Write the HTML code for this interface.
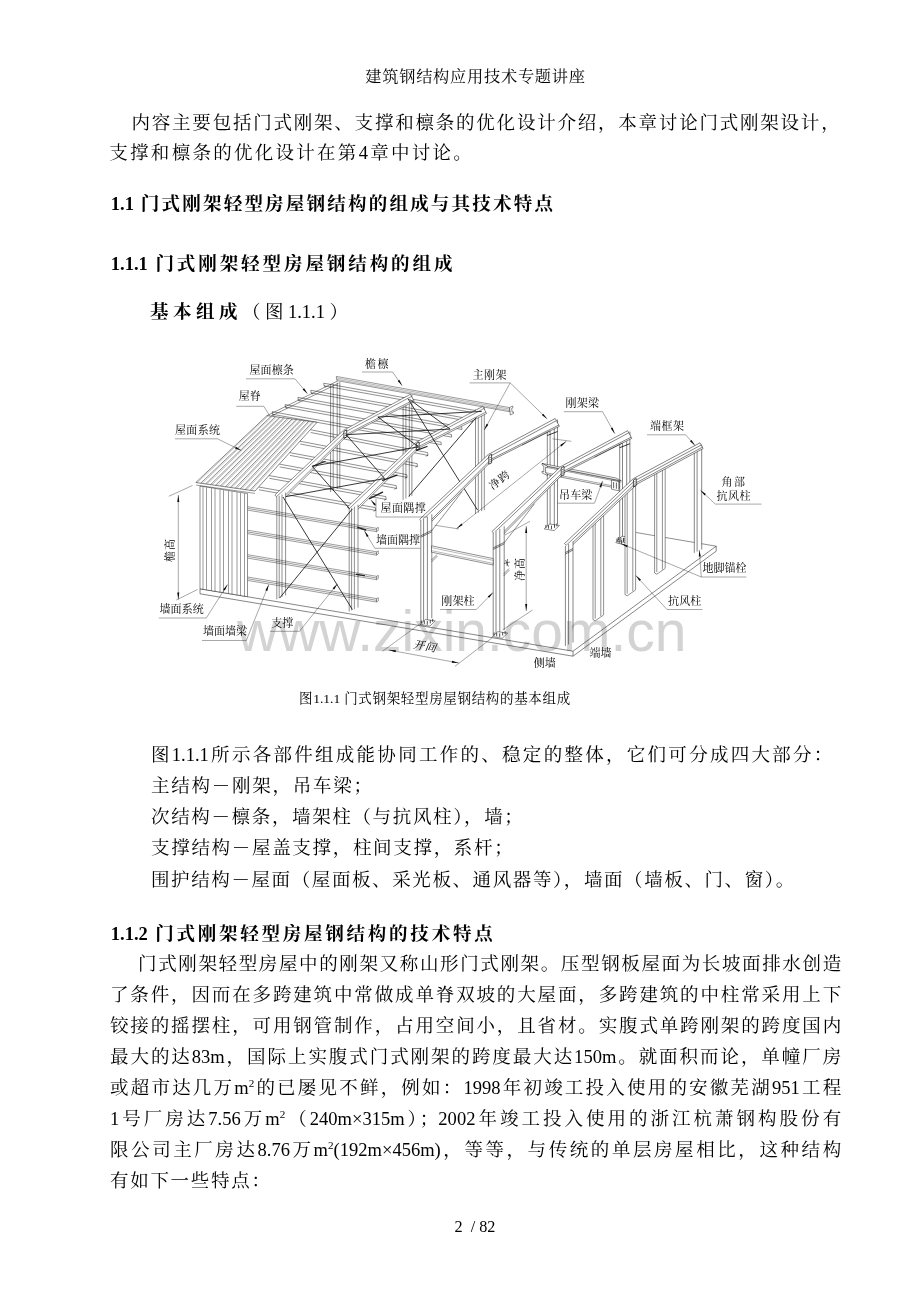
<!DOCTYPE html>
<html lang="zh-CN">
<head>
<meta charset="utf-8">
<title>建筑钢结构应用技术专题讲座</title>
<style>
html,body{margin:0;padding:0;background:#fff}
body{width:920px;height:1302px;overflow:hidden;font-family:"Liberation Serif","Noto Serif CJK SC",serif}
.page{position:relative;width:920px;height:1302px;overflow:hidden;background:#fff}
svg.ink{position:absolute;left:0;top:0;width:920px;height:1302px}
.textlayer{position:absolute;left:0;top:0;width:920px;height:1302px;overflow:hidden}
.t{position:absolute;margin:0;padding:0;line-height:1;white-space:nowrap;overflow:visible;color:#000;font-family:"Liberation Serif","Noto Serif CJK SC",serif;font-weight:normal;text-align:justify;text-align-last:justify}
.t.b{font-weight:bold}
.t sup{font-size:60%;line-height:0}
.wm{position:absolute;left:236.8px;top:602.2px;font-family:"Liberation Sans",sans-serif;font-size:58px;line-height:1;color:#d3d3d3;white-space:nowrap;transform:scaleX(.982);transform-origin:0 0;mix-blend-mode:multiply}
.pageno{position:absolute;left:454.5px;top:1219.1px;font-family:"Liberation Serif",serif;font-size:16.2px;line-height:1;color:#000;white-space:pre}
.t.fl{font-size:11px}

</style>
</head>
<body>
<div class="page">
<svg class="ink" width="920" height="1302" viewBox="0 0 920 1302" aria-hidden="true">
<g id="figure">
<path d="M200.0 588.8 L573.0 651.2 L716.2 546.2 L343.2 483.8Z" fill="#fff" stroke="none" stroke-width="0.0"/>
<path d="M200.0 588.8L573.0 651.2M573.0 651.2L716.2 546.2" fill="none" stroke="#000" stroke-width="0.484"/>
<path d="M200.0 593.8L573.0 656.2M573.0 656.2L716.2 551.2M200.0 588.8L200.0 593.8M573.0 651.2L573.0 656.2M716.2 546.2L716.2 551.2" fill="none" stroke="#000" stroke-width="0.484"/>
<path d="M636.0 532.5L716.2 546.2" fill="none" stroke="#000" stroke-width="0.44"/>
<path d="M330.6 384.7 L339.8 381.9 L339.8 487.9 L330.6 492.0Z" fill="#fff" stroke="none" stroke-width="0.0"/>
<path d="M330.6 384.7L330.6 492.0M333.2 383.9L333.2 490.8M337.2 382.7L337.2 489.0M339.8 381.9L339.8 487.9" fill="none" stroke="#000" stroke-width="0.44"/>
<path d="M403.1 397.3 L411.9 394.6 L411.9 495.9 L403.1 499.9Z" fill="#fff" stroke="none" stroke-width="0.0"/>
<path d="M403.1 397.3L403.1 499.9M405.9 396.4L405.9 498.6M409.3 395.4L409.3 497.1M411.9 394.6L411.9 495.9" fill="none" stroke="#000" stroke-width="0.44"/>
<path d="M475.5 409.4 L484.3 406.8 L484.3 510.1 L475.5 514.0Z" fill="#fff" stroke="none" stroke-width="0.0"/>
<path d="M475.5 409.4L475.5 514.0M478.3 408.6L478.3 512.8M481.7 407.6L481.7 511.2M484.3 406.8L484.3 510.1" fill="none" stroke="#000" stroke-width="0.44"/>
<path d="M267.0 415.6L337.5 381.0M268.6 417.4L338.6 383.2" fill="none" stroke="#000" stroke-width="0.44"/>
<path d="M272.2 411.7L441.0 442.1M272.5 414.3L441.3 444.7M285.1 404.6L451.4 434.5M285.4 407.2L451.7 437.1M297.9 397.4L461.7 426.9M298.2 400.0L462.0 429.5M310.8 390.3L472.1 419.3M311.1 392.9L472.4 421.9M323.7 383.2L482.5 411.8M324.0 385.8L482.8 414.4" fill="none" stroke="#000" stroke-width="0.44"/>
<path d="M272.2 411.7L272.5 414.3M441.0 442.1L441.3 444.7M272.5 414.3L274.4 415.7M285.1 404.6L285.4 407.2M451.4 434.5L451.7 437.1M285.4 407.2L287.3 408.6M297.9 397.4L298.2 400.0M461.7 426.9L462.0 429.5M298.2 400.0L300.1 401.4M310.8 390.3L311.1 392.9M472.1 419.3L472.4 421.9M311.1 392.9L313.0 394.3M323.7 383.2L324.0 385.8M482.5 411.8L482.8 414.4M324.0 385.8L325.9 387.2" fill="none" stroke="#000" stroke-width="0.44"/>
<path d="M336.3 376.4 L509.5 407.6 L510.1 411.8 L336.9 380.6Z" fill="#fff" stroke="#000" stroke-width="0.396"/>
<path d="M336.5 377.9L509.7 409.1M336.8 379.4L509.9 410.6" fill="none" stroke="#333" stroke-width="0.352"/>
<path d="M509.5 407.6 L512.7 406.0 L512.9 407.8 L511.7 408.4 L512.1 412.2 L513.4 411.8 L513.6 413.4 L510.3 415.0 L510.1 411.8Z" fill="#fff" stroke="#000" stroke-width="0.44"/>
<path d="M258.6 487.0L375.3 507.6M259.0 489.8L375.7 510.4M268.9 475.5L385.8 496.6M269.3 478.3L386.2 499.4M279.3 464.1L396.2 485.6M279.7 466.9L396.6 488.4M289.6 452.6L406.7 474.6M290.0 455.4L407.1 477.4M299.9 441.2L417.1 463.6M300.3 444.0L417.5 466.4M310.3 429.7L427.6 452.6M310.7 432.5L428.0 455.4" fill="none" stroke="#000" stroke-width="0.44"/>
<path d="M375.3 507.6L375.7 510.4M375.7 510.4L373.5 511.2M385.8 496.6L386.2 499.4M386.2 499.4L384.0 500.2M396.2 485.6L396.6 488.4M396.6 488.4L394.4 489.2M406.7 474.6L407.1 477.4M407.1 477.4L404.9 478.2M417.1 463.6L417.5 466.4M417.5 466.4L415.3 467.2M427.6 452.6L428.0 455.4M428.0 455.4L425.8 456.2" fill="none" stroke="#000" stroke-width="0.44"/>
<path d="M343.6 430.2 L410.4 394.3 L414.2 401.3 L346.6 435.8Z" fill="#fff" stroke="none" stroke-width="0.0"/>
<path d="M343.6 430.2L410.4 394.3M344.7 432.3L411.5 396.4M346.0 434.6L413.5 400.0M346.6 435.8L414.2 401.3" fill="none" stroke="#000" stroke-width="0.44"/>
<path d="M410.4 394.3L414.2 401.3" fill="none" stroke="#000" stroke-width="0.44"/>
<path d="M274.9 495.0 L343.6 430.2 L348.0 434.8 L281.1 501.5Z" fill="#fff" stroke="none" stroke-width="0.0"/>
<path d="M274.9 495.0L343.6 430.2M276.5 496.7L345.2 431.9M280.0 500.4L347.0 433.8M281.1 501.5L348.0 434.8" fill="none" stroke="#000" stroke-width="0.44"/>
<path d="M274.9 495.0L281.1 501.5" fill="none" stroke="#000" stroke-width="0.44"/>
<path d="M343.9 431.3 L346.7 429.9 L346.7 436.9 L343.9 438.3Z" fill="#fff" stroke="#000" stroke-width="0.704"/>
<path d="M345.3 432.9L345.3 433.6M345.3 435.1L345.3 435.8M345.3 437.1L345.3 437.7" fill="none" stroke="#000" stroke-width="0.88"/>
<path d="M416.0 442.3 L482.8 406.4 L486.6 413.5 L419.0 448.0Z" fill="#fff" stroke="none" stroke-width="0.0"/>
<path d="M416.0 442.3L482.8 406.4M417.1 444.4L483.9 408.5M418.4 446.7L485.9 412.1M419.0 448.0L486.6 413.5" fill="none" stroke="#000" stroke-width="0.44"/>
<path d="M482.8 406.4L486.6 413.5" fill="none" stroke="#000" stroke-width="0.44"/>
<path d="M347.3 507.1 L416.0 442.3 L420.4 447.0 L353.5 513.7Z" fill="#fff" stroke="none" stroke-width="0.0"/>
<path d="M347.3 507.1L416.0 442.3M348.9 508.9L417.6 444.1M352.4 512.6L419.4 446.0M353.5 513.7L420.4 447.0" fill="none" stroke="#000" stroke-width="0.44"/>
<path d="M347.3 507.1L353.5 513.7" fill="none" stroke="#000" stroke-width="0.44"/>
<path d="M416.3 443.4 L419.1 442.0 L419.1 449.0 L416.3 450.4Z" fill="#fff" stroke="#000" stroke-width="0.704"/>
<path d="M417.7 445.0L417.7 445.7M417.7 447.2L417.7 447.9M417.7 449.2L417.7 449.8" fill="none" stroke="#000" stroke-width="0.88"/>
<path d="M278.4 498.0L384.6 478.5M312.2 466.3L350.8 510.1M312.2 466.3L418.5 446.8M346.1 434.7L384.6 478.5M346.1 434.7L450.1 429.1M377.8 417.0L418.5 446.8M377.8 417.0L481.8 411.4M409.4 399.3L450.1 429.1" fill="none" stroke="#111" stroke-width="0.836"/>
<path d="M408.0 398.8L477.5 510.0M476.3 417.5L408.8 496.3" fill="none" stroke="#111" stroke-width="0.836"/>
<path d="M276.8 497.0 L285.6 492.6 L285.6 595.4 L276.8 599.4Z" fill="#fff" stroke="none" stroke-width="0.0"/>
<path d="M276.8 497.0L276.8 599.4M279.2 495.8L279.2 598.3M282.0 494.4L282.0 597.0M285.6 492.6L285.6 595.4" fill="none" stroke="#000" stroke-width="0.44"/>
<path d="M349.2 509.1 L358.0 504.7 L358.0 607.6 L349.2 611.5Z" fill="#fff" stroke="none" stroke-width="0.0"/>
<path d="M349.2 509.1L349.2 611.5M351.6 507.9L351.6 610.4M354.4 506.5L354.4 609.2M358.0 504.7L358.0 607.6" fill="none" stroke="#000" stroke-width="0.44"/>
<path d="M247.5 506.7L376.5 528.3M247.5 508.4L376.5 530.0M247.5 510.1L376.5 531.7M247.5 530.2L376.5 551.8M247.5 531.9L376.5 553.5M247.5 533.6L376.5 555.2M247.5 554.7L376.5 576.3M247.5 556.4L376.5 578.0M247.5 558.1L376.5 579.7M247.5 577.0L376.5 598.6M247.5 578.7L376.5 600.3M247.5 580.4L376.5 602.0" fill="none" stroke="#000" stroke-width="0.387"/>
<path d="M376.5 528.3L376.5 531.7M376.5 528.3L378.3 527.4M378.3 527.4L378.3 530.5M376.5 531.7L378.3 530.5M376.5 551.8L376.5 555.2M376.5 551.8L378.3 550.9M378.3 550.9L378.3 554.0M376.5 555.2L378.3 554.0M376.5 576.3L376.5 579.7M376.5 576.3L378.3 575.4M378.3 575.4L378.3 578.5M376.5 579.7L378.3 578.5M376.5 598.6L376.5 602.0M376.5 598.6L378.3 597.7M378.3 597.7L378.3 600.8M376.5 602.0L378.3 600.8" fill="none" stroke="#000" stroke-width="0.405"/>
<path d="M283.0 497.0L352.4 609.6M352.4 508.9L279.7 598.0" fill="none" stroke="#111" stroke-width="0.836"/>
<path d="M382.6 480.4L397.0 475.2M369.6 498.7L382.6 492.2M416.5 450.4L427.0 446.5M357.8 527.4L365.7 530.0M356.5 574.4L364.4 575.7M313.0 466.0L325.0 461.5" fill="none" stroke="#222" stroke-width="1.32" stroke-linecap="round"/>
<path d="M195.8 482.5 L267.0 415.6 L317.0 422.3 L255.0 491.0Z" fill="#fff" stroke="#000" stroke-width="0.484"/>
<path d="M200.7 483.2L271.2 416.2M205.6 483.9L275.3 416.7M210.6 484.6L279.5 417.3M215.5 485.3L283.7 417.8M220.4 486.0L287.8 418.4M225.4 486.8L292.0 419.0M230.3 487.5L296.2 419.5M235.2 488.2L300.3 420.1M240.2 488.9L304.5 420.6M245.1 489.6L308.7 421.2M250.1 490.3L312.8 421.7" fill="none" stroke="#000" stroke-width="0.44"/>
<path d="M197.2 482.7L268.2 415.8M202.2 483.4L272.4 416.3M207.1 484.1L276.6 416.9M212.0 484.8L280.8 417.4M217.0 485.5L284.9 418.0M221.9 486.3L289.1 418.6M226.9 487.0L293.2 419.1M231.8 487.7L297.4 419.7M236.7 488.4L301.6 420.2M241.7 489.1L305.8 420.8M246.6 489.8L309.9 421.4M251.5 490.5L314.1 421.9" fill="none" stroke="#444" stroke-width="0.308"/>
<path d="M200.0 486.0 L247.5 493.6 L247.5 596.7 L200.0 588.8Z" fill="#fff" stroke="#000" stroke-width="0.44"/>
<path d="M203.0 487.0L203.0 589.3M206.5 487.5L206.5 589.8M211.5 488.3L211.5 590.7M215.0 488.9L215.0 591.3M220.0 489.7L220.0 592.1M223.5 490.3L223.5 592.7M228.5 491.1L228.5 593.5M232.0 491.6L232.0 594.1M237.0 492.4L237.0 594.9M240.5 493.0L240.5 595.5M244.5 493.6L244.5 596.2" fill="none" stroke="#000" stroke-width="0.396"/>
<path d="M196.2 485.1L255.0 493.4" fill="none" stroke="#000" stroke-width="0.396"/>
<path d="M547.3 423.5 L557.5 419.5 L557.5 524.1 L547.3 528.6Z" fill="#fff" stroke="none" stroke-width="0.0"/>
<path d="M547.3 423.5L547.3 528.6M550.1 422.4L550.1 527.4M554.3 420.7L554.3 525.5M557.5 419.5L557.5 524.1" fill="none" stroke="#000" stroke-width="0.484"/>
<path d="M544.2 528.9 L554.1 530.6 L559.5 525.4 L549.6 524.0Z" fill="#fff" stroke="#000" stroke-width="0.44"/>
<path d="M545.9 528.0L545.9 524.9M548.5 528.6L548.5 525.2M551.5 529.2L551.5 525.6M554.5 527.9L554.5 524.4M556.9 526.4L556.9 523.4" fill="none" stroke="#222" stroke-width="0.792"/>
<path d="M619.7 435.7 L629.9 431.6 L629.9 536.2 L619.7 540.8Z" fill="#fff" stroke="none" stroke-width="0.0"/>
<path d="M619.7 435.7L619.7 540.8M622.5 434.6L622.5 539.5M626.7 432.9L626.7 537.6M629.9 431.6L629.9 536.2" fill="none" stroke="#000" stroke-width="0.484"/>
<path d="M616.6 541.0 L626.5 542.8 L631.9 537.6 L622.0 536.2Z" fill="#fff" stroke="#000" stroke-width="0.44"/>
<path d="M618.3 540.2L618.3 537.0M620.9 540.8L620.9 537.4M623.9 541.4L623.9 537.8M626.9 540.0L626.9 536.6M629.3 538.6L629.3 535.6" fill="none" stroke="#222" stroke-width="0.792"/>
<path d="M488.4 454.4 L555.2 418.5 L559.4 426.3 L491.6 460.4Z" fill="#fff" stroke="none" stroke-width="0.0"/>
<path d="M488.4 454.4L555.2 418.5M489.5 456.6L556.3 420.7M491.0 459.2L558.7 425.1M491.6 460.4L559.4 426.3" fill="none" stroke="#000" stroke-width="0.484"/>
<path d="M555.2 418.5L559.4 426.3" fill="none" stroke="#000" stroke-width="0.484"/>
<path d="M419.7 519.2 L488.4 454.4 L493.1 459.4 L426.6 526.5Z" fill="#fff" stroke="none" stroke-width="0.0"/>
<path d="M419.7 519.2L488.4 454.4M421.3 521.0L490.0 456.2M425.6 525.5L492.1 458.4M426.6 526.5L493.1 459.4" fill="none" stroke="#000" stroke-width="0.484"/>
<path d="M419.7 519.2L426.6 526.5" fill="none" stroke="#000" stroke-width="0.484"/>
<path d="M522.1 445.1L549.7 431.0" fill="none" stroke="#000" stroke-width="0.44"/>
<path d="M462.1 491.6L428.2 535.2" fill="none" stroke="#000" stroke-width="0.44"/>
<path d="M488.8 455.7 L491.6 454.2 L491.6 462.8 L488.8 464.2Z" fill="#fff" stroke="#000" stroke-width="0.704"/>
<path d="M490.2 457.2L490.2 457.9M490.2 459.4L490.2 460.2M490.2 461.4L490.2 462.1" fill="none" stroke="#000" stroke-width="0.88"/>
<path d="M420.8 520.2 L431.8 514.2 L431.8 618.2 L420.8 623.1Z" fill="#fff" stroke="none" stroke-width="0.0"/>
<path d="M420.8 520.2L420.8 623.1M423.6 518.7L423.6 621.9M427.4 516.6L427.4 620.2M431.8 514.2L431.8 618.2" fill="none" stroke="#000" stroke-width="0.484"/>
<path d="M420.0 624.4 L429.9 626.1 L435.3 620.9 L425.4 619.5Z" fill="#fff" stroke="#000" stroke-width="0.44"/>
<path d="M421.7 623.5L421.7 620.4M424.3 624.1L424.3 620.8M427.3 624.8L427.3 621.1M430.3 623.4L430.3 619.9M432.7 621.9L432.7 618.9" fill="none" stroke="#222" stroke-width="0.792"/>
<path d="M420.8 535.8L431.8 530.2M420.8 537.2L431.8 531.8" fill="none" stroke="#000" stroke-width="0.528"/>
<path d="M547.3 435.5L557.5 431.5" fill="none" stroke="#000" stroke-width="0.792"/>
<path d="M545.0 466.0 L619.0 480.6 L619.0 488.6 L545.0 474.0Z" fill="#fff" stroke="#000" stroke-width="0.44"/>
<path d="M542.0 463.4 L616.0 478.0 L621.4 480.8 L547.4 466.2Z" fill="#fff" stroke="#000" stroke-width="0.44"/>
<path d="M547.4 467.6L621.4 482.2M545.5 472.6L619.5 487.2" fill="none" stroke="#000" stroke-width="0.352"/>
<path d="M542.0 463.4 L547.4 466.2 L547.4 467.8 L545.6 467.2 L545.6 473.0 L547.4 473.8 L547.4 475.6 L542.0 472.8 L542.0 471.2 L543.8 472.0 L543.8 466.0 L542.0 465.0Z" fill="#fff" stroke="#000" stroke-width="0.44"/>
<path d="M611.5 480.0 L618.8 481.6 L618.8 490.8 L611.5 489.2Z" fill="#fff" stroke="#000" stroke-width="0.44"/>
<path d="M613.6 482.0L613.6 488.2M616.4 482.6L616.4 488.8" fill="none" stroke="#000" stroke-width="0.616"/>
<path d="M560.8 466.6 L627.6 430.7 L631.8 438.4 L564.0 472.6Z" fill="#fff" stroke="none" stroke-width="0.0"/>
<path d="M560.8 466.6L627.6 430.7M561.9 468.7L628.7 432.8M563.4 471.3L631.1 437.2M564.0 472.6L631.8 438.4" fill="none" stroke="#000" stroke-width="0.484"/>
<path d="M627.6 430.7L631.8 438.4" fill="none" stroke="#000" stroke-width="0.484"/>
<path d="M492.1 531.4 L560.8 466.6 L565.5 471.5 L499.0 538.7Z" fill="#fff" stroke="none" stroke-width="0.0"/>
<path d="M492.1 531.4L560.8 466.6M493.7 533.1L562.4 468.3M498.0 537.6L564.5 470.5M499.0 538.7L565.5 471.5" fill="none" stroke="#000" stroke-width="0.484"/>
<path d="M492.1 531.4L499.0 538.7" fill="none" stroke="#000" stroke-width="0.484"/>
<path d="M594.5 457.2L622.1 443.2" fill="none" stroke="#000" stroke-width="0.44"/>
<path d="M534.5 503.7L500.6 547.4" fill="none" stroke="#000" stroke-width="0.44"/>
<path d="M561.2 467.8 L564.0 466.4 L564.0 474.9 L561.2 476.3Z" fill="#fff" stroke="#000" stroke-width="0.704"/>
<path d="M562.6 469.4L562.6 470.1M562.6 471.6L562.6 472.3M562.6 473.6L562.6 474.2" fill="none" stroke="#000" stroke-width="0.88"/>
<path d="M493.2 532.4 L504.2 526.3 L504.2 630.3 L493.2 635.3Z" fill="#fff" stroke="none" stroke-width="0.0"/>
<path d="M493.2 532.4L493.2 635.3M496.0 530.8L496.0 634.0M499.8 528.8L499.8 632.3M504.2 526.3L504.2 630.3" fill="none" stroke="#000" stroke-width="0.484"/>
<path d="M492.4 636.5 L502.2 638.3 L507.7 633.1 L497.8 631.7Z" fill="#fff" stroke="#000" stroke-width="0.44"/>
<path d="M494.1 635.7L494.1 632.5M496.7 636.3L496.7 632.9M499.7 636.9L499.7 633.3M502.7 635.5L502.7 632.1M505.1 634.1L505.1 631.1" fill="none" stroke="#222" stroke-width="0.792"/>
<path d="M493.2 547.9L504.2 542.4M493.2 549.4L504.2 543.9" fill="none" stroke="#000" stroke-width="0.528"/>
<path d="M619.7 447.7L629.9 443.7" fill="none" stroke="#000" stroke-width="0.792"/>
<path d="M431.5 545.8 L493.2 558.6 L493.2 565.0 L431.5 552.2Z" fill="#fff" stroke="#000" stroke-width="0.44"/>
<path d="M431.5 547.6L493.2 560.4M431.5 550.6L493.2 563.4" fill="none" stroke="#333" stroke-width="0.352"/>
<path d="M431.5 560.0L437.0 554.5M431.5 562.0L437.5 556.0M503.6 574.0L509.0 568.5M503.6 576.0L509.5 570.0" fill="none" stroke="#000" stroke-width="0.44"/>
<path d="M505.5 560.0L508.5 566.5M507.5 559.0L507.0 566.0M504.0 563.5L510.0 562.0" fill="none" stroke="#000" stroke-width="0.528"/>
<path d="M593.0 518.0 L603.6 511.7 L603.6 614.8 L593.0 619.6Z" fill="#fff" stroke="none" stroke-width="0.0"/>
<path d="M593.0 518.0L593.0 619.6M595.2 516.7L595.2 618.6M600.8 513.4L600.8 616.1M603.6 511.7L603.6 614.8" fill="none" stroke="#000" stroke-width="0.44"/>
<path d="M593.0 619.6L595.2 620.8M595.2 620.8L603.6 615.0" fill="none" stroke="#000" stroke-width="0.44"/>
<path d="M625.0 487.9 L635.6 481.5 L635.6 589.8 L625.0 594.6Z" fill="#fff" stroke="none" stroke-width="0.0"/>
<path d="M625.0 487.9L625.0 594.6M627.2 486.5L627.2 593.6M632.8 483.2L632.8 591.1M635.6 481.5L635.6 589.8" fill="none" stroke="#000" stroke-width="0.44"/>
<path d="M625.0 594.6L627.2 595.8M627.2 595.8L635.6 590.0" fill="none" stroke="#000" stroke-width="0.44"/>
<path d="M654.6 470.8 L665.2 464.4 L665.2 568.2 L654.6 573.0Z" fill="#fff" stroke="none" stroke-width="0.0"/>
<path d="M654.6 470.8L654.6 573.0M656.8 469.5L656.8 572.0M662.4 466.1L662.4 569.5M665.2 464.4L665.2 568.2" fill="none" stroke="#000" stroke-width="0.44"/>
<path d="M654.6 573.0L656.8 574.2M656.8 574.2L665.2 568.4" fill="none" stroke="#000" stroke-width="0.44"/>
<path d="M694.3 447.8 L701.7 444.8 L701.7 549.6 L694.3 552.9Z" fill="#fff" stroke="none" stroke-width="0.0"/>
<path d="M694.3 447.8L694.3 552.9M697.1 446.7L697.1 551.6M701.7 444.8L701.7 549.6" fill="none" stroke="#000" stroke-width="0.484"/>
<path d="M633.2 478.7 L700.0 442.8 L703.1 448.6 L636.3 484.5Z" fill="#fff" stroke="none" stroke-width="0.0"/>
<path d="M633.2 478.7L700.0 442.8M634.4 480.9L701.2 445.0M635.6 483.1L702.4 447.2M636.3 484.5L703.1 448.6" fill="none" stroke="#000" stroke-width="0.484"/>
<path d="M700.0 442.8L703.1 448.6" fill="none" stroke="#000" stroke-width="0.484"/>
<path d="M564.5 543.5 L633.2 478.7 L637.7 483.5 L569.0 548.3Z" fill="#fff" stroke="none" stroke-width="0.0"/>
<path d="M564.5 543.5L633.2 478.7M566.2 545.3L634.9 480.5M567.9 547.1L636.6 482.3M569.0 548.3L637.7 483.5" fill="none" stroke="#000" stroke-width="0.484"/>
<path d="M564.5 543.5L569.0 548.3" fill="none" stroke="#000" stroke-width="0.484"/>
<path d="M633.4 479.9 L636.2 478.5 L636.2 485.5 L633.4 486.9Z" fill="#fff" stroke="#000" stroke-width="0.704"/>
<path d="M634.8 481.5L634.8 482.2M634.8 483.7L634.8 484.4M634.8 485.7L634.8 486.3" fill="none" stroke="#000" stroke-width="0.88"/>
<path d="M565.4 546.0 L573.0 541.4 L573.0 642.5 L565.4 645.9Z" fill="#fff" stroke="none" stroke-width="0.0"/>
<path d="M565.4 546.0L565.4 645.9M568.6 544.1L568.6 644.5M573.0 541.4L573.0 642.5" fill="none" stroke="#000" stroke-width="0.484"/>
<path d="M565.4 552.5L573.0 548.5M565.4 554.0L573.0 550.0" fill="none" stroke="#000" stroke-width="0.528"/>
<path d="M617.0 542.0L617.0 538.5M619.2 543.0L619.2 539.0M621.4 543.8L621.4 540.0M623.4 542.0L623.4 538.0" fill="none" stroke="#222" stroke-width="0.792"/>
<path d="M615.5 542.5L625.0 545.0" fill="none" stroke="#000" stroke-width="0.528"/>
<path d="M307.5 393.8 L302.6 389.4 L304.1 388.2Z" fill="#000" stroke="none" stroke-width="0.0"/>
<path d="M402.2 385.7 L397.7 381.0 L399.3 379.8Z" fill="#000" stroke="none" stroke-width="0.0"/>
<path d="M241.3 450.5 L235.0 448.5 L235.9 446.7Z" fill="#000" stroke="none" stroke-width="0.0"/>
<path d="M547.2 418.9 L541.8 415.1 L543.2 413.7Z" fill="#000" stroke="none" stroke-width="0.0"/>
<path d="M484.3 430.0 L486.6 423.8 L488.3 424.8Z" fill="#000" stroke="none" stroke-width="0.0"/>
<path d="M614.8 433.7 L610.8 428.5 L612.5 427.5Z" fill="#000" stroke="none" stroke-width="0.0"/>
<path d="M695.0 445.5 L690.0 441.3 L691.5 439.9Z" fill="#000" stroke="none" stroke-width="0.0"/>
<path d="M700.5 490.2 L705.9 493.9 L704.6 495.4Z" fill="#000" stroke="none" stroke-width="0.0"/>
<path d="M602.6 481.0 L601.3 487.4 L599.4 486.8Z" fill="#000" stroke="none" stroke-width="0.0"/>
<path d="M370.9 500.0 L375.9 504.3 L374.3 505.6Z" fill="#000" stroke="none" stroke-width="0.0"/>
<path d="M364.4 530.8 L368.6 535.9 L366.9 536.9Z" fill="#000" stroke="none" stroke-width="0.0"/>
<path d="M227.5 584.5 L224.9 590.5 L223.2 589.5Z" fill="#000" stroke="none" stroke-width="0.0"/>
<path d="M268.8 584.5 L267.3 590.9 L265.4 590.2Z" fill="#000" stroke="none" stroke-width="0.0"/>
<path d="M337.5 583.8 L334.2 589.5 L332.7 588.3Z" fill="#000" stroke="none" stroke-width="0.0"/>
<path d="M493.0 592.5 L489.2 597.8 L487.7 596.4Z" fill="#000" stroke="none" stroke-width="0.0"/>
<path d="M621.3 543.8 L627.7 545.4 L626.9 547.2Z" fill="#000" stroke="none" stroke-width="0.0"/>
<path d="M699.3 550.0 L700.8 556.4 L698.8 556.6Z" fill="#000" stroke="none" stroke-width="0.0"/>
<path d="M635.8 575.5 L640.9 579.6 L639.5 581.0Z" fill="#000" stroke="none" stroke-width="0.0"/>
<path d="M178.3 495.0 L179.3 502.0 L177.3 502.0Z" fill="#000" stroke="none" stroke-width="0.0"/>
<path d="M178.3 599.5 L177.3 592.5 L179.3 592.5Z" fill="#000" stroke="none" stroke-width="0.0"/>
<path d="M456.5 528.7 L461.4 523.6 L462.6 525.1Z" fill="#000" stroke="none" stroke-width="0.0"/>
<path d="M566.3 441.3 L561.4 446.4 L560.2 444.9Z" fill="#000" stroke="none" stroke-width="0.0"/>
<path d="M526.2 526.0 L527.2 533.0 L525.2 533.0Z" fill="#000" stroke="none" stroke-width="0.0"/>
<path d="M526.2 611.0 L525.2 604.0 L527.2 604.0Z" fill="#000" stroke="none" stroke-width="0.0"/>
<path d="M388.8 650.0 L395.9 650.3 L395.5 652.3Z" fill="#000" stroke="none" stroke-width="0.0"/>
<path d="M458.8 663.0 L451.7 662.7 L452.1 660.7Z" fill="#000" stroke="none" stroke-width="0.0"/>
<path d="M246.0 378.8L295.0 378.8M295.0 378.8L307.5 393.8M362.0 372.0L392.6 372.0M392.6 372.0L402.2 385.7M236.3 406.3L263.8 406.3M263.8 406.3L269.5 415.5M175.0 438.8L217.5 438.8M217.5 438.8L241.3 450.5M469.6 382.9L510.2 382.9M510.2 382.9L547.2 418.9M510.2 382.9L484.3 430.0M563.8 411.7L602.6 411.7M602.6 411.7L614.8 433.7M647.0 434.8L685.7 434.8M685.7 434.8L695.0 445.5M761.5 504.1L715.3 504.1M715.3 504.1L700.5 490.2M557.5 503.2L594.5 503.2M594.5 503.2L602.6 481.0M376.0 498.7L376.0 517.0M376.0 517.0L427.0 517.0M376.0 506.0L370.9 500.0M420.4 548.3L374.8 548.3M374.8 548.3L364.4 530.8M158.8 618.0L206.3 618.0M206.3 618.0L227.5 584.5M202.0 640.5L246.3 640.5M246.3 640.5L268.8 584.5M270.0 631.3L299.5 631.3M299.5 631.3L337.5 583.8M440.0 609.5L476.3 609.5M476.3 609.5L493.0 592.5M746.3 577.0L701.3 577.0M701.3 577.0L621.3 543.8M701.3 577.0L699.3 550.0M702.5 609.5L667.0 609.5M667.0 609.5L635.8 575.5M168.8 496.3L192.5 485.5M176.3 600.0L197.5 589.5M178.3 495.0L178.3 599.5M456.5 528.7L566.3 441.3M434.8 525.2L459.0 529.0M552.5 438.8L571.3 441.3M526.2 526.0L526.2 611.0M505.0 535.0L530.0 521.3M502.5 630.0L532.5 610.0M388.8 650.0L458.8 663.0M420.0 623.8L382.5 651.3M492.5 637.5L455.0 666.3" fill="none" stroke="#222" stroke-width="0.396"/>
</g>
</svg>
<div class="wm">www.zixin.com.cn</div>
<div class="textlayer">
<div class="t hdr" style="left:365.3px;top:69.0px;font-size:16.23px;width:219.7px">建筑钢结构应用技术专题讲座</div>
<p class="t" style="left:131.5px;top:113.7px;font-size:18.55px;width:708.2px">内容主要包括门式刚架、支撑和檩条的优化设计介绍，本章讨论门式刚架设计，</p>
<p class="t" style="left:109.3px;top:143.7px;font-size:18.55px;width:362.5px">支撑和檩条的优化设计在第4章中讨论。</p>
<h2 class="t b" style="left:110.8px;top:194.5px;font-size:18.55px;width:442.2px">1.1 门式刚架轻型房屋钢结构的组成与其技术特点</h2>
<h3 class="t b" style="left:110.8px;top:255.4px;font-size:18.55px;width:341.7px">1.1.1 门式刚架轻型房屋钢结构的组成</h3>
<p class="t" style="left:150.0px;top:303.2px;font-size:18.55px;width:198.0px"><b>基本组成</b>（图1.1.1）</p>
<div class="t cap" style="left:299.0px;top:691.6px;font-size:13.5px;width:271.2px">图1.1.1 门式钢架轻型房屋钢结构的基本组成</div>
<p class="t" style="left:151.0px;top:745.7px;font-size:18.55px;width:681.4px">图1.1.1所示各部件组成能协同工作的、稳定的整体，它们可分成四大部分：</p>
<p class="t" style="left:151.0px;top:776.9px;font-size:18.55px;width:221.1px">主结构－刚架，吊车梁；</p>
<p class="t" style="left:151.0px;top:808.2px;font-size:18.55px;width:371.9px">次结构－檩条，墙架柱（与抗风柱），墙；</p>
<p class="t" style="left:151.0px;top:839.4px;font-size:18.55px;width:361.8px">支撑结构－屋盖支撑，柱间支撑，系杆；</p>
<p class="t" style="left:151.0px;top:870.7px;font-size:18.55px;width:643.2px">围护结构－屋面（屋面板、采光板、通风器等），墙面（墙板、门、窗）。</p>
<h3 class="t b" style="left:110.8px;top:924.6px;font-size:18.55px;width:381.9px">1.1.2 门式刚架轻型房屋钢结构的技术特点</h3>
<p class="t" style="left:138.0px;top:955.0px;font-size:18.55px;width:703.2px">门式刚架轻型房屋中的刚架又称山形门式刚架。压型钢板屋面为长坡面排水创造</p>
<p class="t" style="left:110.0px;top:986.0px;font-size:18.55px;width:731.2px">了条件，因而在多跨建筑中常做成单脊双坡的大屋面，多跨建筑的中柱常采用上下</p>
<p class="t" style="left:110.0px;top:1017.0px;font-size:18.55px;width:731.2px">铰接的摇摆柱，可用钢管制作，占用空间小，且省材。实腹式单跨刚架的跨度国内</p>
<p class="t" style="left:110.0px;top:1048.0px;font-size:18.55px;width:731.2px">最大的达83m，国际上实腹式门式刚架的跨度最大达150m。就面积而论，单幢厂房</p>
<p class="t" style="left:110.0px;top:1079.0px;font-size:18.55px;width:731.2px">或超市达几万m<sup>2</sup>的已屡见不鲜，例如：1998年初竣工投入使用的安徽芜湖951工程</p>
<p class="t" style="left:110.0px;top:1110.0px;font-size:18.55px;width:731.2px">1号厂房达7.56万m<sup>2</sup>（240m×315m）；2002年竣工投入使用的浙江杭萧钢构股份有</p>
<p class="t" style="left:110.0px;top:1141.0px;font-size:18.55px;width:731.2px">限公司主厂房达8.76万m<sup>2</sup>(192m×456m)，等等，与传统的单层房屋相比，这种结构</p>
<p class="t" style="left:110.0px;top:1172.0px;font-size:18.55px;width:160.0px">有如下一些特点：</p>
<div class="figlabels"><span class="t fl" style="left:249.5px;top:365.0px;width:44.3px">屋面檩条</span><span class="t fl" style="left:365.0px;top:358.5px;width:23.5px">檐檩</span><span class="t fl" style="left:238.8px;top:391.3px;width:21.3px">屋脊</span><span class="t fl" style="left:175.0px;top:424.5px;width:45.0px">屋面系统</span><span class="t fl" style="left:472.5px;top:369.5px;width:34.0px">主刚架</span><span class="t fl" style="left:565.6px;top:398.3px;width:33.4px">刚架梁</span><span class="t fl" style="left:650.0px;top:421.2px;width:34.0px">端框架</span><span class="t fl" style="left:721.6px;top:476.6px;width:23.4px">角部</span><span class="t fl" style="left:716.4px;top:490.7px;width:34.0px">抗风柱</span><span class="t fl" style="left:559.0px;top:489.5px;width:33.3px">吊车梁</span><span class="t fl" style="left:380.5px;top:503.2px;width:45.2px">屋面隅撑</span><span class="t fl" style="left:376.0px;top:534.5px;width:43.0px">墙面隅撑</span><span class="t fl" style="left:159.5px;top:603.8px;width:44.3px">墙面系统</span><span class="t fl" style="left:203.0px;top:625.5px;width:44.0px">墙面墙梁</span><span class="t fl" style="left:271.3px;top:617.5px;width:21.3px">支撑</span><span class="t fl" style="left:441.3px;top:595.5px;width:33.3px">刚架柱</span><span class="t fl" style="left:702.5px;top:562.5px;width:43.8px">地脚锚栓</span><span class="t fl" style="left:668.0px;top:595.5px;width:33.3px">抗风柱</span><span class="t fl" style="left:589.5px;top:647.5px;width:21.8px">端墙</span><span class="t fl" style="left:533.8px;top:657.5px;width:21.3px">侧墙</span><span class="t fl" style="left:413.5px;top:640.5px;width:23px;transform:rotate(9.5deg) skewX(-14deg)">开间</span><span class="t fl" style="left:508.5px;top:564.1px;width:23px;transform:rotate(-90.0deg)">净高</span><span class="t fl" style="left:488.0px;top:474.5px;width:23px;transform:rotate(-38.2deg)">净跨</span><span class="t fl" style="left:158.5px;top:544.5px;width:23px;transform:rotate(-90.0deg)">檐高</span></div>
</div>
<div class="pageno">2  / 82</div>
</div>
</body>
</html>
